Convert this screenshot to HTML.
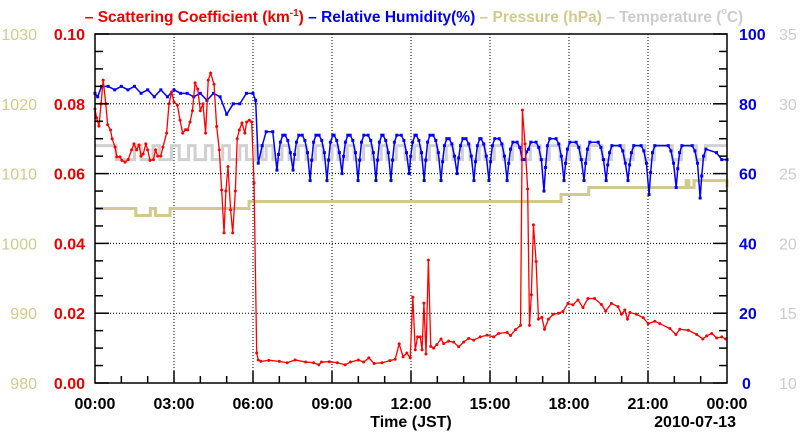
<!DOCTYPE html>
<html><head><meta charset="utf-8"><style>
html,body{margin:0;padding:0;background:#fff;}
svg{display:block;font-family:"Liberation Sans",Arial,sans-serif;}
</style></head><body>
<svg id="chart" width="800" height="434" viewBox="0 0 800 434">
<rect x="0" y="0" width="800" height="434" fill="#fff"/>
<g id="grid"></g>
<g id="series"></g>
<g id="axes"></g>
<text x="414" y="22" text-anchor="middle" font-size="15.5" font-weight="bold"><tspan fill="#ee0000">– Scattering Coefficient (km<tspan font-size="10" dy="-6">-1</tspan><tspan dy="6">)</tspan></tspan><tspan fill="#0000ee"> – Relative Humidity(%)</tspan><tspan fill="#d2ca8c"> – Pressure (hPa)</tspan><tspan fill="#cccccc"> – Temperature (<tspan font-size="9" dy="-8">o</tspan><tspan dy="8">C)</tspan></tspan></text>
<text x="411" y="427" text-anchor="middle" font-size="16" font-weight="bold">Time (JST)</text>
<text x="736" y="427" text-anchor="end" font-size="16" font-weight="bold">2010-07-13</text>
</svg>
<script>
// ---- data ----
var xTickLabels = ["00:00","03:00","06:00","09:00","12:00","15:00","18:00","21:00","00:00"];
var scatTicks = ["0.00","0.02","0.04","0.06","0.08","0.10"];
var pressTicks = ["980","990","1000","1010","1020","1030"];
var rhTicks = ["0","20","40","60","80","100"];
var tempTicks = ["10","15","20","25","30","35"];

var scatT = [0,0.06,0.15,0.23,0.31,0.41,0.48,0.59,0.65,0.76,0.83,0.95,1.02,1.14,1.26,1.39,1.48,1.58,1.67,1.75,1.83,1.93,2.0,2.09,2.22,2.3,2.38,2.5,2.58,2.72,2.81,2.91,3.0,3.13,3.23,3.33,3.44,3.52,3.61,3.7,3.8,3.9,4.0,4.1,4.2,4.3,4.39,4.52,4.62,4.72,4.81,4.9,4.97,5.05,5.15,5.23,5.33,5.4,5.48,5.58,5.69,5.76,5.86,5.95,6.04,6.14,6.2,6.3,6.6,7.0,7.3,7.6,8.0,8.3,8.5,8.6,8.9,9.2,9.5,9.7,10.0,10.2,10.4,10.6,10.9,11.2,11.4,11.55,11.7,11.84,11.97,12.07,12.16,12.25,12.35,12.42,12.49,12.57,12.66,12.75,12.86,12.98,13.14,13.24,13.43,13.62,13.81,14.0,14.19,14.38,14.63,14.89,15.14,15.33,15.65,15.78,15.97,16.16,16.23,16.33,16.43,16.5,16.57,16.65,16.75,16.84,16.97,17.07,17.22,17.4,17.6,17.77,17.96,18.15,18.34,18.53,18.72,18.97,19.23,19.39,19.61,19.86,19.99,20.12,20.22,20.31,20.56,20.82,21.01,21.26,21.45,21.83,22.06,22.21,22.53,22.85,23.08,23.23,23.42,23.61,23.8,23.95];
var scatV = [0.0785,0.076,0.0736,0.080,0.0868,0.080,0.074,0.0725,0.070,0.0676,0.0648,0.0648,0.0638,0.0633,0.064,0.0668,0.0685,0.0668,0.0682,0.065,0.0656,0.0685,0.0668,0.0638,0.064,0.0668,0.065,0.065,0.0676,0.0716,0.080,0.0834,0.0805,0.0796,0.0753,0.0716,0.0726,0.0725,0.0748,0.078,0.086,0.0842,0.078,0.080,0.0716,0.0868,0.0888,0.0856,0.0735,0.0668,0.0553,0.043,0.055,0.062,0.0496,0.043,0.055,0.070,0.0725,0.0745,0.0716,0.0748,0.0753,0.0748,0.0573,0.0086,0.0066,0.0062,0.0065,0.0062,0.0058,0.0066,0.0060,0.0058,0.0052,0.0060,0.0061,0.0058,0.0052,0.0060,0.0066,0.0060,0.0072,0.0056,0.0058,0.0064,0.0068,0.0112,0.0075,0.0086,0.0072,0.0246,0.0095,0.0132,0.0132,0.0095,0.0229,0.0083,0.0352,0.0105,0.0100,0.0110,0.0126,0.0113,0.0120,0.0117,0.0104,0.0117,0.0128,0.0123,0.0132,0.0137,0.0132,0.0142,0.0145,0.0136,0.0153,0.0165,0.0782,0.0685,0.0556,0.0165,0.0253,0.0453,0.0348,0.0183,0.0188,0.0154,0.0183,0.0197,0.0200,0.0205,0.0228,0.0224,0.0238,0.0216,0.0242,0.0242,0.0225,0.0206,0.0228,0.0219,0.0197,0.0209,0.0183,0.0202,0.0197,0.0187,0.0170,0.0177,0.0170,0.0156,0.0139,0.0154,0.0151,0.0139,0.0126,0.0135,0.0142,0.0129,0.0132,0.0126];

var rhEarlyT = [0,0.1,0.25,0.5,0.75,1,1.25,1.5,1.75,2,2.25,2.5,2.75,3,3.25,3.5,3.75,4,4.25,4.5,4.75,5,5.25,5.5,5.75,6,6.1,6.2,6.35,6.5,6.75];
var rhEarlyV = [83,82,85,85,84,85,84,85,83,84,82,84,82,84,83,83,82,83,81,83,82,77,80,80,83,83,81,63,68,72,72];
var dipT = [6.91,7.52,8.17,8.81,9.38,9.99,10.67,11.24,11.93,12.50,13.14,13.75,14.39,14.96,15.65,16.33,17.05,17.81,18.57,19.41,20.24,21.04,22.07,22.98];
var dipV = [61,61,58,58,60,58,58,58,60,58,58,60,58,58,58,64,55,58,58,58,58,54,56,53];
var peakV = [71,71,71,71,71,71,71,71,71,71,70,70,70,70,69,69,70,69,69,68,68,68,68,67];
var rhEndT = [24];
var rhEndV = [64];

var pressT = [0,1.55,2.1,2.3,2.85,5.85,17.7,18.75,22.45,22.55,22.75,23.95,24];
var pressV = [1005,1004,1005,1004,1005,1006,1007,1008,1009,1008,1009,1009,1008];

var tempT = [0,0.8,1.5,1.75,2.2,2.45,2.9,3.2,3.55,3.8,4.2,4.45,4.85,5.1,5.5,5.75,6.1,6.35,6.5];
var tempV = [27,26,27,26,27,26,27,26,27,26,27,26,27,26,27,26,27,26,27];
var tempLowStart = [6.76,7.37,8.02,8.66,9.23,9.84,10.52,11.09,11.78,12.35,12.99,13.6,14.24,14.81,15.5,16.18,16.9,17.66,18.42,19.26,20.09,20.89,21.92,22.83];
var tempLowEnd = [7.1,7.72,8.37,9.0,9.58,10.2,10.87,11.44,12.13,12.7,13.34,13.95,14.59,15.16,15.85,16.53,17.25,18.01,18.77,19.61,20.44,21.24,22.27,23.18];

// ---- scales ----
var L=95,R=727,T=34,B=383;
function xs(h){return L+h*(R-L)/24;}
function ys(v){return B-v*(B-T)/0.10;}
function yrh(v){return B-v*(B-T)/100;}
function yp(v){return B-(v-980)*(B-T)/50;}
function yt(v){return B-(v-10)*(B-T)/25;}

var NS="http://www.w3.org/2000/svg";
function mk(tag,attrs,parent){var e=document.createElementNS(NS,tag);for(var k in attrs)e.setAttribute(k,attrs[k]);parent.appendChild(e);return e;}
var grid=document.getElementById('grid'),ser=document.getElementById('series'),axes=document.getElementById('axes');

for(var i=1;i<8;i++){
  var g=mk('line',{x1:xs(i*3),x2:xs(i*3),y1:T,y2:B,stroke:'#000','stroke-width':1,'stroke-dasharray':'1,2'},grid);
  
  
}
for(var j=1;j<5;j++){
  var gy=ys(j*0.02);
  var g2=mk('line',{x1:L,x2:R,y1:gy,y2:gy,stroke:'#000','stroke-width':1,'stroke-dasharray':'1,2'},grid);
  
  
}

var tp=[];
for(var a=0;a<tempT.length;a++){var nx=(a+1<tempT.length)?tempT[a+1]:tempLowStart[0];tp.push(xs(tempT[a])+','+yt(tempV[a]));tp.push(xs(nx)+','+yt(tempV[a]));}
for(var b=0;b<tempLowStart.length;b++){
  var nxt=(b+1<tempLowStart.length)?tempLowStart[b+1]:24;
  tp.push(xs(tempLowStart[b])+','+yt(26));tp.push(xs(tempLowEnd[b])+','+yt(26));
  tp.push(xs(tempLowEnd[b])+','+yt(27));tp.push(xs(nxt)+','+yt(27));
}
var tl=mk('polyline',{points:tp.join(' '),fill:'none',stroke:'#d0d0d0','stroke-width':3},ser);



var pp=[];
for(var c=0;c<pressT.length;c++){var n2=(c+1<pressT.length)?pressT[c+1]:24;pp.push(xs(pressT[c])+','+yp(pressV[c]));pp.push(xs(n2)+','+yp(pressV[c]));}
var pl=mk('polyline',{points:pp.join(' '),fill:'none',stroke:'#d2ca8c','stroke-width':3},ser);



var rh=[];
for(var d=0;d<rhEarlyT.length;d++)rh.push([rhEarlyT[d],rhEarlyV[d]]);
for(var e=0;e<dipT.length;e++){
  var nd=(e+1<dipT.length)?dipT[e+1]:24.2;
  var pk=peakV[e],dv=dipV[e];
  rh.push([dipT[e],dv]);
  rh.push([dipT[e]+0.06,dv+(pk-dv)*0.45]);
  rh.push([dipT[e]+0.13,pk-2]);
  rh.push([dipT[e]+0.22,pk]);
  if(e+1<dipT.length){
    rh.push([nd-0.3,pk]);
    rh.push([nd-0.2,pk-1.5]);
    rh.push([nd-0.1,pk-5]);
  }
}
rh.push([23.6,66]);rh.push([23.8,64]);
for(var f=0;f<rhEndT.length;f++)rh.push([rhEndT[f],rhEndV[f]]);
var rp=rh.map(function(p){return xs(p[0])+','+yrh(p[1]);}).join(' ');
var rl=mk('polyline',{points:rp,fill:'none',stroke:'#0000ff','stroke-width':1.5},ser);


rh.forEach(function(p){
  var m=mk('rect',{x:xs(p[0])-1.5,y:yrh(p[1])-1.5,width:3,height:3,fill:'#0000ff'},ser);
  
  
});

var sp=scatT.map(function(t,i){return xs(t)+','+ys(scatV[i]);}).join(' ');
var sl=mk('polyline',{points:sp,fill:'none',stroke:'#ff0000','stroke-width':1.3},ser);


scatT.forEach(function(t,i){
  var m=mk('circle',{cx:xs(t),cy:ys(scatV[i]),r:1.5,fill:'#ff0000'},ser);
  
  
});

var fr=mk('rect',{x:L,y:T,width:R-L,height:B-T,fill:'none',stroke:'#000','stroke-width':1.5},axes);


for(var k=0;k<=20;k++){
  var yy=T+k*(B-T)/20, len=(k%4==0)?14:8;
  var t1=mk('line',{x1:L,x2:L+len,y1:yy,y2:yy,stroke:'#000','stroke-width':1.5},axes);
  
  
  var t2=mk('line',{x1:R,x2:R-len,y1:yy,y2:yy,stroke:'#000','stroke-width':1.5},axes);
  
  
}
for(var h=1;h<24;h++){
  var t3=mk('line',{x1:xs(h),x2:xs(h),y1:B,y2:B-(h%3==0?12:7),stroke:'#000','stroke-width':1.5},axes);
  
  
}
for(var q=0;q<6;q++){
  var ly=ys(q*0.02)+6;
  var a1=mk('text',{x:85,y:ly,'text-anchor':'end','font-size':16,'font-weight':'bold',fill:'#ee0000'},axes);a1.textContent=scatTicks[q];
  
  
  var a2=mk('text',{x:37,y:ly,'text-anchor':'end','font-size':16,fill:'#d2ca8c'},axes);a2.textContent=pressTicks[q];
  
  
  var a3=mk('text',{x:(q==0?742:739),y:ly,'font-size':16,'font-weight':'bold',fill:'#0000ee'},axes);a3.textContent=rhTicks[q];
  
  
  var a4=mk('text',{x:779,y:ly,'font-size':16,fill:'#cccccc'},axes);a4.textContent=tempTicks[q];
  
  
}
for(var s=0;s<xTickLabels.length;s++){
  var xl=mk('text',{x:xs(s*3),y:409,'text-anchor':'middle','font-size':16,'font-weight':'bold',fill:'#000'},axes);xl.textContent=xTickLabels[s];
  
  
}
</script>
</body></html>
